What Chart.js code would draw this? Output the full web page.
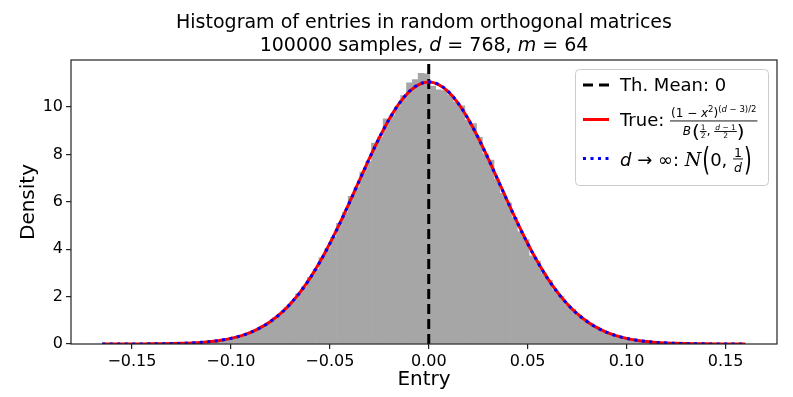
<!DOCTYPE html>
<html>
<head>
<meta charset="utf-8">
<script src="https://cdn.jsdelivr.net/npm/chart.js@4/dist/chart.umd.min.js"></script>
<style>
  html, body { margin: 0; padding: 0; background: #fff; }
  #wrap { width: 793px; height: 397px; }
</style>
</head>
<body>
<div id="wrap"><canvas id="chart" width="793" height="397"></canvas></div>
<script>
/* ---- data ---- */
const nSamples = 100000;
const dim = 768;
const mCols = 64;
const thMean = 0;

// histogram bins span the smallest .. largest sampled entry
const binStart = -0.1646;
const binEnd = 0.1598;
const density = [
  0.000, 0.001, 0.001, 0.001, 0.002, 0.002, 0.003, 0.005, 0.007, 0.009,
  0.012, 0.016, 0.021, 0.027, 0.038, 0.050, 0.062, 0.085, 0.104, 0.138,
  0.170, 0.220, 0.268, 0.342, 0.412, 0.520, 0.620, 0.770, 0.905, 1.105,
  1.290, 1.550, 1.780, 2.120, 2.400, 2.810, 3.150, 3.640, 4.020, 4.500,
  5.090, 5.540, 6.230, 6.620, 7.250, 7.700, 8.480, 8.730, 9.500, 9.640,
  10.010, 10.480, 11.020, 11.150, 11.420, 11.400, 10.880, 10.720, 10.690, 10.500,
  10.200, 10.050, 9.450, 9.300, 8.720, 8.020, 7.760, 6.950, 6.360, 5.960,
  5.330, 4.740, 4.400, 3.720, 3.480, 3.000, 2.690, 2.260, 2.020, 1.660,
  1.470, 1.200, 1.040, 0.840, 0.720, 0.570, 0.485, 0.380, 0.318, 0.245,
  0.202, 0.152, 0.126, 0.094, 0.076, 0.056, 0.045, 0.032, 0.026, 0.018,
  0.014, 0.010, 0.008, 0.005, 0.004, 0.003, 0.002, 0.001, 0.001, 0.001
];

// theoretical curves
const curveX = [
  -0.165, -0.16, -0.155, -0.15, -0.145, -0.14, -0.135, -0.13, -0.125, -0.12,
  -0.115, -0.11, -0.105, -0.10, -0.095, -0.09, -0.085, -0.08, -0.075, -0.07,
  -0.065, -0.06, -0.055, -0.05, -0.045, -0.04, -0.035, -0.03, -0.025, -0.02,
  -0.015, -0.01, -0.005, 0, 0.005, 0.01, 0.015, 0.02, 0.025, 0.03,
  0.035, 0.04, 0.045, 0.05, 0.055, 0.06, 0.065, 0.07, 0.075, 0.08,
  0.085, 0.09, 0.095, 0.10, 0.105, 0.11, 0.115, 0.12, 0.125, 0.13,
  0.135, 0.14, 0.145, 0.15, 0.155, 0.16
];
const trueDensity = [
  0.0003, 0.0005, 0.0010, 0.0018, 0.0033, 0.0057, 0.0098, 0.0164, 0.0269, 0.0433,
  0.0680, 0.1051, 0.1592, 0.2364, 0.3447, 0.4922, 0.6901, 0.9480, 1.277, 1.689,
  2.189, 2.781, 3.468, 4.241, 5.089, 5.988, 6.913, 7.830, 8.699, 9.481,
  10.138, 10.634, 10.944, 11.049, 10.944, 10.634, 10.138, 9.481, 8.699, 7.830,
  6.913, 5.988, 5.089, 4.241, 3.468, 2.781, 2.189, 1.689, 1.277, 0.9480,
  0.6901, 0.4922, 0.3447, 0.2364, 0.1592, 0.1051, 0.0680, 0.0433, 0.0269, 0.0164,
  0.0098, 0.0057, 0.0033, 0.0018, 0.0010, 0.0005
];
const normalDensity = [
  0.0003, 0.0006, 0.0011, 0.0020, 0.0034, 0.0060, 0.0101, 0.0168, 0.0274, 0.0439,
  0.0689, 0.1061, 0.1603, 0.2376, 0.3456, 0.4929, 0.6897, 0.9468, 1.275, 1.685,
  2.183, 2.775, 3.460, 4.233, 5.080, 5.981, 6.907, 7.825, 8.697, 9.482,
  10.141, 10.640, 10.950, 11.056, 10.950, 10.640, 10.141, 9.482, 8.697, 7.825,
  6.907, 5.981, 5.080, 4.233, 3.460, 2.775, 2.183, 1.685, 1.275, 0.9468,
  0.6897, 0.4929, 0.3456, 0.2376, 0.1603, 0.1061, 0.0689, 0.0439, 0.0274, 0.0168,
  0.0101, 0.0060, 0.0034, 0.0020, 0.0011, 0.0006
];

const xRange = [-0.1808, 0.1760];
const yRange = [0, 11.98];
const xTicks = [-0.15, -0.10, -0.05, 0, 0.05, 0.10, 0.15];
const yTicks = [0, 2, 4, 6, 8, 10];

/* ---- text helpers ---- */
const FAMILY = '"DejaVu Sans", sans-serif';
function font(size, italic) {
  return (italic ? 'italic ' : '') + size + 'px ' + FAMILY;
}

// draw (or just measure) a row of text pieces: [text, font, dy]
function run(ctx, x, y, parts, draw) {
  for (const p of parts) {
    ctx.font = p[1];
    if (draw) ctx.fillText(p[0], x, y + (p[2] || 0));
    x += ctx.measureText(p[0]).width;
  }
  return x;
}

// stacked fraction, num / den are text piece lists
function frac(ctx, x, axisY, num, den, up, down, draw) {
  const wn = run(ctx, 0, 0, num, false);
  const wd = run(ctx, 0, 0, den, false);
  const w = Math.max(wn, wd) + 2;
  if (draw) {
    run(ctx, x + (w - wn) / 2, axisY - up, num, true);
    run(ctx, x + (w - wd) / 2, axisY + down, den, true);
    ctx.fillRect(x, axisY - 0.5, w, 0.9);
  }
  return x + w;
}

// tall parenthesis stretched vertically between top and bottom
function paren(ctx, ch, x, top, bottom, draw) {
  ctx.font = font(20);
  const w = ctx.measureText(ch).width;
  if (draw) {
    const k = (bottom - top) / 17.8;
    ctx.save();
    ctx.translate(x, bottom);
    ctx.scale(1, k);
    ctx.fillText(ch, 0, -2.6);
    ctx.restore();
  }
  return x + w;
}

/* ---- plugins ---- */
const framePlugin = {
  id: 'frame',
  afterDatasetsDraw(chart) {
    const { ctx, chartArea: a } = chart;
    ctx.save();
    ctx.strokeStyle = '#222';
    ctx.lineWidth = 1.2;
    ctx.strokeRect(a.left, a.top, a.right - a.left, a.bottom - a.top);
    ctx.restore();
  }
};

const titlePlugin = {
  id: 'mathTitle',
  afterDraw(chart) {
    const { ctx, chartArea: a } = chart;
    const cx = (a.left + a.right) / 2;
    ctx.save();
    ctx.fillStyle = '#000';
    ctx.textAlign = 'left';
    ctx.textBaseline = 'alphabetic';
    const line1 = [['Histogram of entries in random orthogonal matrices', font(19)]];
    const line2 = [
      [nSamples + ' samples, ', font(19)],
      ['d', font(19, true)],
      [' = ' + dim, font(19)],
      [', ', font(19)],
      ['m', font(19, true)],
      [' = ' + mCols, font(19)]
    ];
    const w1 = run(ctx, 0, 0, line1, false);
    run(ctx, cx - w1 / 2, 28, line1, true);
    const w2 = run(ctx, 0, 0, line2, false);
    run(ctx, cx - w2 / 2, 51, line2, true);
    ctx.restore();
  }
};

function handle(ctx, y, color, dash) {
  ctx.beginPath();
  ctx.setLineDash(dash);
  ctx.strokeStyle = color;
  ctx.lineWidth = 3;
  ctx.moveTo(583, y);
  ctx.lineTo(609, y);
  ctx.stroke();
  ctx.setLineDash([]);
}

const legendPlugin = {
  id: 'mathLegend',
  afterDraw(chart) {
    const ctx = chart.ctx;
    ctx.save();
    ctx.beginPath();
    ctx.roundRect(575.5, 69.5, 193, 116, 4);
    ctx.fillStyle = 'rgba(255,255,255,0.8)';
    ctx.fill();
    ctx.strokeStyle = '#cccccc';
    ctx.lineWidth = 1;
    ctx.stroke();

    handle(ctx, 85, '#000000', [10, 6]);
    handle(ctx, 119.5, '#ff0000', []);
    handle(ctx, 158.5, '#0000ff', [3, 4.5]);

    ctx.fillStyle = '#000';
    ctx.textAlign = 'left';
    ctx.textBaseline = 'alphabetic';
    const tx = 620;

    // row 1
    run(ctx, tx, 91, [['Th. Mean: ' + thMean, font(18)]], true);

    // row 2: True: (1-x^2)^((d-3)/2) / B(1/2, (d-1)/2)
    let x = run(ctx, tx, 126, [['True: ', font(18)]], true);
    const num = [
      ['(1 \u2212 ', font(12)], ['x', font(12, true)], ['2', font(8.5), -5],
      [')', font(12)], ['(', font(8.5), -5], ['d', font(8.5, true), -5],
      [' \u2212 3)/2', font(8.5), -5]
    ];
    const drawDen = (x0, draw) => {
      let dx = run(ctx, x0, 135, [['B', font(12, true)]], draw);
      dx = paren(ctx, '(', dx + 1, 125, 140, draw);
      dx = frac(ctx, dx, 131.5, [['1', font(7.5)]], [['2', font(7.5)]], 1.5, 6.5, draw);
      dx = run(ctx, dx, 135, [[', ', font(12)]], draw);
      dx = frac(ctx, dx, 131.5, [['d', font(7.5, true)], [' \u2212 1', font(7.5)]], [['2', font(7.5)]], 1.5, 6.5, draw);
      dx = paren(ctx, ')', dx, 125, 140, draw);
      return dx;
    };
    const wn = run(ctx, 0, 0, num, false);
    const wd = drawDen(0, false);
    const fw = Math.max(wn, wd) + 2;
    run(ctx, x + (fw - wn) / 2, 116.5, num, true);
    drawDen(x + (fw - wd) / 2, true);
    ctx.fillRect(x, 120.5, fw, 0.9);

    // row 3: d -> inf: N(0, 1/d)
    x = run(ctx, tx, 166, [
      ['d', font(18, true)], [' \u2192 ', font(18)], ['\u221E', font(18)], [': ', font(18)]
    ], true);
    ctx.font = 'italic 19px "DejaVu Serif", serif';
    ctx.fillText('N', x, 166);
    x += ctx.measureText('N').width + 1;
    x = paren(ctx, '(', x, 146, 174, true);
    x = run(ctx, x, 166, [['0, ', font(18)]], true);
    x = frac(ctx, x, 159, [['1', font(12.5)]], [['d', font(12.5, true)]], 2, 12.5, true);
    paren(ctx, ')', x + 1, 146, 174, true);
    ctx.restore();
  }
};

/* ---- chart ---- */
const binWidth = (binEnd - binStart) / density.length;
const histPoints = density.map((v, i) => ({ x: binStart + (i + 0.5) * binWidth, y: v }));
const truePoints = curveX.map((x, i) => ({ x: x, y: trueDensity[i] }));
const normalPoints = curveX.map((x, i) => ({ x: x, y: normalDensity[i] }));
const meanPoints = [{ x: thMean, y: yRange[0] }, { x: thMean, y: yRange[1] }];

const tickFont = { family: 'DejaVu Sans', size: 16 };
const labelFont = { family: 'DejaVu Sans', size: 20 };

new Chart(document.getElementById('chart'), {
  type: 'bar',
  data: {
    datasets: [
      {
        type: 'bar',
        label: 'hist',
        data: histPoints,
        backgroundColor: '#a6a6a6',
        borderWidth: 0,
        barPercentage: 1,
        categoryPercentage: 1,
        grouped: false,
        order: 4
      },
      {
        type: 'line',
        label: 'Th. Mean',
        data: meanPoints,
        borderColor: '#000000',
        borderWidth: 3,
        borderDash: [10, 5],
        pointRadius: 0,
        order: 3
      },
      {
        type: 'line',
        label: 'True',
        data: truePoints,
        borderColor: '#ff0000',
        borderWidth: 3,
        pointRadius: 0,
        cubicInterpolationMode: 'monotone',
        order: 2
      },
      {
        type: 'line',
        label: 'Normal',
        data: normalPoints,
        borderColor: '#0000ff',
        borderWidth: 3,
        borderDash: [3, 4.5],
        pointRadius: 0,
        cubicInterpolationMode: 'monotone',
        order: 1
      }
    ]
  },
  options: {
    responsive: false,
    animation: false,
    devicePixelRatio: 1,
    layout: { padding: { top: 60, right: 16, left: 0, bottom: 0 } },
    plugins: { legend: { display: false }, tooltip: { enabled: false } },
    scales: {
      x: {
        type: 'linear',
        min: xRange[0],
        max: xRange[1],
        offset: false,
        afterBuildTicks: s => { s.ticks = xTicks.map(v => ({ value: v })); },
        afterFit: s => { s.height = 53; },
        ticks: {
          font: tickFont,
          color: '#000',
          padding: 3,
          maxRotation: 0,
          callback: v => (v < 0 ? '\u2212' : '') + Math.abs(v).toFixed(2)
        },
        grid: { display: true, drawOnChartArea: false, drawTicks: true, tickLength: 5, color: '#222', lineWidth: 1.2, offset: false },
        border: { display: false },
        title: { display: true, text: 'Entry', font: labelFont, color: '#000', padding: { top: 0, bottom: 5 } }
      },
      y: {
        type: 'linear',
        min: yRange[0],
        max: yRange[1],
        afterBuildTicks: s => { s.ticks = yTicks.map(v => ({ value: v })); },
        afterFit: s => { s.width = 71; },
        ticks: { font: tickFont, color: '#000', padding: 3 },
        grid: { display: true, drawOnChartArea: false, drawTicks: true, tickLength: 5, color: '#222', lineWidth: 1.2 },
        border: { display: false },
        title: { display: true, text: 'Density', font: labelFont, color: '#000', padding: { top: 17, bottom: 0 } }
      }
    }
  },
  plugins: [framePlugin, titlePlugin, legendPlugin]
});
</script>
</body>
</html>
